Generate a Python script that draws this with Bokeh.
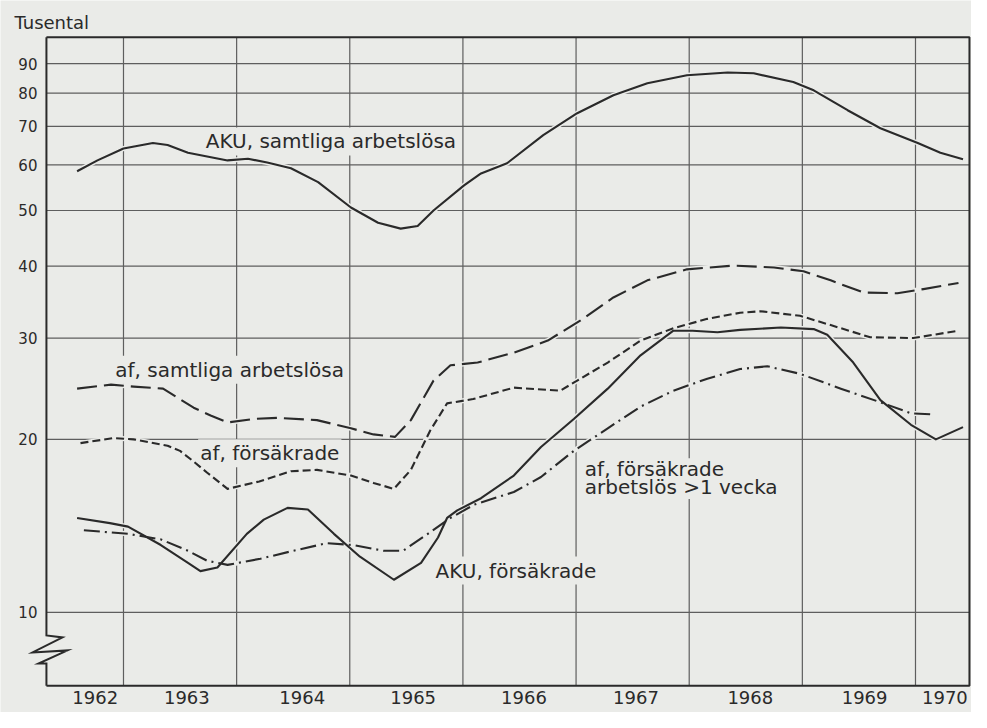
from bokeh.plotting import figure
from bokeh.models import Range1d, Label
from bokeh.core.properties import value
from bokeh.embed import file_html
from bokeh.resources import INLINE

# ---------------- data (thousands, log scale) ----------------
aku_all_t = [1962.59, 1962.77, 1963.00, 1963.26, 1963.39, 1963.57, 1963.92, 1964.10, 1964.27,
             1964.48, 1964.72, 1965.01, 1965.25, 1965.45, 1965.60, 1965.74, 1966.01, 1966.16,
             1966.39, 1966.71, 1967.01, 1967.33, 1967.63, 1967.98, 1968.34, 1968.57, 1968.92,
             1969.10, 1969.40, 1969.69, 1970.02, 1970.22, 1970.42]
aku_all_v = [58.5, 61.1, 64.1, 65.5, 65.0, 63.0, 61.1, 61.5, 60.6,
             59.2, 56.0, 50.6, 47.6, 46.5, 47.0, 50.0, 55.3, 58.0,
             60.4, 67.6, 73.8, 79.3, 83.2, 85.9, 86.9, 86.6, 83.6,
             80.9, 74.7, 69.5, 65.5, 63.0, 61.4]

af_all_t = [1962.59, 1962.89, 1963.09, 1963.35, 1963.62, 1963.77, 1963.92, 1964.15, 1964.36,
            1964.71, 1965.01, 1965.21, 1965.40, 1965.54, 1965.74, 1965.89, 1966.13, 1966.45,
            1966.75, 1967.04, 1967.33, 1967.63, 1967.98, 1968.39, 1968.75, 1969.01, 1969.25,
            1969.54, 1969.84, 1970.07, 1970.38]
af_all_v = [24.5, 24.9, 24.7, 24.5, 22.7, 22.0, 21.4, 21.7, 21.8,
            21.6, 20.9, 20.4, 20.2, 21.6, 25.3, 26.9, 27.2, 28.3,
            29.7, 32.2, 35.3, 37.8, 39.5, 40.1, 39.8, 39.2, 37.8,
            36.0, 35.9, 36.5, 37.4]

af_ins_t = [1962.62, 1962.91, 1963.09, 1963.39, 1963.50, 1963.62, 1963.74, 1963.92, 1964.20,
            1964.48, 1964.71, 1965.01, 1965.21, 1965.39, 1965.54, 1965.71, 1965.86, 1966.09,
            1966.45, 1966.86, 1967.01, 1967.28, 1967.57, 1967.86, 1968.16, 1968.45, 1968.63,
            1968.98, 1969.25, 1969.60, 1969.98, 1970.38]
af_ins_v = [19.7, 20.1, 20.0, 19.5, 19.1, 18.3, 17.5, 16.4, 16.9,
            17.6, 17.7, 17.3, 16.8, 16.4, 17.7, 20.7, 23.1, 23.5,
            24.6, 24.3, 25.3, 27.2, 29.7, 31.2, 32.4, 33.2, 33.4,
            32.8, 31.6, 30.1, 30.0, 30.9]

aku_ins_t = [1962.59, 1962.88, 1963.04, 1963.33, 1963.57, 1963.68, 1963.83, 1964.09, 1964.24,
             1964.45, 1964.63, 1964.86, 1965.09, 1965.39, 1965.63, 1965.78, 1965.86, 1965.95,
             1966.16, 1966.45, 1966.69, 1966.98, 1967.28, 1967.57, 1967.86, 1968.03, 1968.25,
             1968.45, 1968.81, 1969.10, 1969.22, 1969.45, 1969.69, 1969.96, 1970.18, 1970.42]
aku_ins_v = [14.6, 14.3, 14.1, 13.1, 12.2, 11.8, 11.97, 13.7, 14.5,
             15.2, 15.1, 13.7, 12.5, 11.4, 12.2, 13.5, 14.6, 15.05,
             15.8, 17.3, 19.4, 21.7, 24.5, 28.0, 30.9, 30.9, 30.7,
             31.0, 31.3, 31.1, 30.4, 27.2, 23.4, 21.2, 20.0, 21.0]

af_week_t = [1962.65, 1963.04, 1963.33, 1963.57, 1963.74, 1963.92, 1964.21, 1964.50, 1964.80,
             1965.03, 1965.30, 1965.47, 1965.69, 1965.89, 1966.10, 1966.45, 1966.69, 1966.98,
             1967.28, 1967.57, 1967.86, 1968.16, 1968.45, 1968.69, 1968.98, 1969.34, 1969.69,
             1969.96, 1970.16]
af_week_v = [13.9, 13.7, 13.4, 12.8, 12.3, 12.1, 12.4, 12.8, 13.2,
             13.1, 12.8, 12.8, 13.7, 14.6, 15.4, 16.2, 17.2, 19.1,
             20.9, 22.8, 24.3, 25.5, 26.5, 26.8, 26.0, 24.5, 23.2,
             22.2, 22.1]

years = [1962, 1963, 1964, 1965, 1966, 1967, 1968, 1969, 1970]
grid_years = [1963, 1964, 1965, 1966, 1967, 1968, 1969, 1970]
y_ticks = [10, 20, 30, 40, 50, 60, 70, 80, 90]
y_tick_labels = ["10", "20", "30", "40", "50", "60", "70", "80", "90"]

# ---------------- layout / style ----------------
BG = "#eaebe8"
INK = "#2a2a2a"
GRID = "#5e5e5e"
FONT = "DejaVu Sans"
# canvas ranges (the whole canvas is the plotting frame)
XR = (1961.913, 1970.495)
YR = (6.70, 115.9)
# drawn box
BX0, BX1 = 1962.319, 1970.477
BY0, BY1 = 7.46, 100.0
year_label_offsets = [0.75, 0.56, 0.58, 0.56, 0.54, 0.53, 0.54, 0.55, 0.26]
LIFT = 10 ** (7 / 575)   # Label boxes sit on descent + padding

p = figure(width=971, height=712, title=None,
           x_range=Range1d(*XR), y_range=Range1d(*YR), y_axis_type="log",
           x_axis_location=None, y_axis_location=None,
           output_backend="svg", toolbar_location=None,
           min_border=0)
p.background_fill_color = BG
p.border_fill_color = BG
p.outline_line_color = None
p.grid.visible = False

# grid lines inside the box
n = len(grid_years)
p.segment(x0=grid_years, y0=[BY0] * n, x1=grid_years, y1=[BY1] * n,
          line_color=GRID, line_width=1.2, level="image")
m = len(y_ticks)
p.segment(x0=[BX0] * m, y0=y_ticks, x1=[BX1] * m, y1=y_ticks,
          line_color=GRID, line_width=1.2, level="image")

# tick labels
p.text(x=[BX0] * m, y=y_ticks, text=y_tick_labels, x_offset=-9,
       text_align="right", text_baseline="middle", text_font=value(FONT),
       text_font_size="15px", text_color=INK)
p.text(x=[y + o for y, o in zip(years, year_label_offsets)], y=[BY0] * len(years),
       text=[str(y) for y in years], y_offset=5,
       text_align="center", text_baseline="top", text_font=value(FONT),
       text_font_size="18px", text_color=INK)

series = [
    (aku_all_t, aku_all_v, "solid"),
    (af_all_t, af_all_v, "20 7"),
    (af_ins_t, af_ins_v, "8 4"),
    (aku_ins_t, aku_ins_v, "solid"),
    (af_week_t, af_week_v, "16 5 2 5"),
]
# halos that interrupt the grid where curves cross it
for t, v, d in series:
    p.line(t, v, line_color=BG, line_width=5)
for t, v, d in series:
    p.line(t, v, line_color=INK, line_width=2.1, line_dash=d, line_join="round")

# frame with broken left axis
p.line([BX0, BX1, BX1, BX0], [BY1, BY1, BY0, BY0], line_color=INK, line_width=2)
p.line([BX0, BX0, 1962.461, 1962.196, 1962.505, 1962.249, BX0, BX0],
       [BY1, 9.12, 9.05, 8.52, 8.59, 8.15, 8.15, BY0],
       line_color=INK, line_width=2, line_join="miter")

def lab(x, y, text, size="20px", bg=True):
    p.add_layout(Label(x=x, y=y * LIFT, text=text,
                       text_font=FONT, text_font_size=size, text_color=INK,
                       text_baseline="alphabetic", text_align="left",
                       background_fill_color=BG if bg else None,
                       padding=2, level="underlay"))

lab(1962.019, 103.3, "Tusental", size="18px")
lab(1963.71, 64.1, "AKU, samtliga arbetslösa")
lab(1962.91, 25.7, "af, samtliga arbetslösa")
lab(1963.66, 18.4, "af, försäkrade")
lab(1965.74, 11.5, "AKU, försäkrade")
# two-line label: one shared blank behind both lines
p.quad(left=1967.03, right=1968.80, bottom=15.75, top=18.55,
       fill_color=BG, line_color=None, level="underlay")
lab(1967.06, 17.3, "af, försäkrade", bg=False)
lab(1967.06, 16.1, "arbetslös >1 vecka", bg=False)

open("out.html", "w").write(file_html(p, INLINE))
